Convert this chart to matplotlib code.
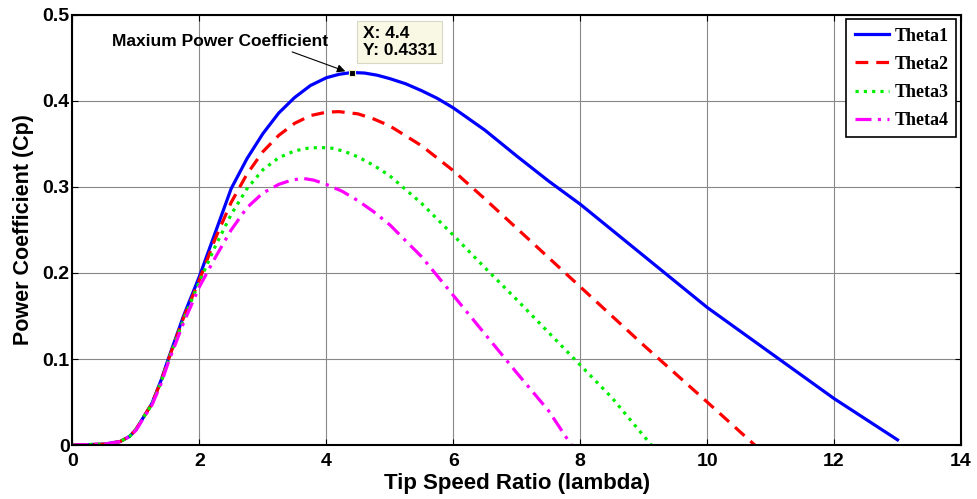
import numpy as np
import matplotlib
matplotlib.use('Agg')
import matplotlib.pyplot as plt

# Values
theta1_x = [0, 0.5, 0.75, 0.9, 1.0, 1.1, 1.25, 1.4, 1.5, 1.75, 2.0, 2.25, 2.5, 2.75, 3.0, 3.25,
            3.5, 3.75, 4.0, 4.2, 4.4, 4.6, 4.8, 5.0, 5.25, 5.5, 5.75, 6.0, 6.5, 7.0, 7.5, 8.0,
            8.5, 9.0, 9.5, 10.0, 11.0, 12.0, 13.0]
theta1_y = [0, 0.001, 0.004, 0.010, 0.018, 0.030, 0.048, 0.076, 0.098, 0.150, 0.196, 0.247,
            0.298, 0.333, 0.362, 0.386, 0.404, 0.418, 0.427, 0.431, 0.4331, 0.4325, 0.430,
            0.426, 0.420, 0.412, 0.403, 0.392, 0.366, 0.336, 0.307, 0.280, 0.250, 0.220, 0.190,
            0.160, 0.107, 0.054, 0.006]

theta2_x = [0, 0.5, 0.75, 0.9, 1.0, 1.1, 1.25, 1.4, 1.5, 1.75, 2.0, 2.25, 2.5, 2.75, 3.0, 3.25,
            3.5, 3.75, 4.0, 4.2, 4.5, 4.75, 5.0, 5.5, 6.0, 6.5, 7.0, 7.5, 8.0, 8.5, 9.0, 9.5,
            10.0, 10.75]
theta2_y = [0, 0.001, 0.004, 0.010, 0.018, 0.030, 0.048, 0.075, 0.097, 0.148, 0.192, 0.240,
            0.282, 0.315, 0.341, 0.360, 0.374, 0.383, 0.387, 0.3876, 0.385, 0.379, 0.371, 0.348,
            0.319, 0.286, 0.252, 0.218, 0.184, 0.150, 0.116, 0.083, 0.050, 0.0]

theta3_x = [0, 0.5, 0.75, 0.9, 1.0, 1.1, 1.25, 1.4, 1.5, 1.75, 2.0, 2.25, 2.5, 2.75, 3.0, 3.25,
            3.5, 3.7, 3.9, 4.1, 4.3, 4.5, 4.75, 5.0, 5.5, 6.0, 6.5, 7.0, 7.5, 8.0, 8.5, 9.12]
theta3_y = [0, 0.001, 0.004, 0.010, 0.018, 0.030, 0.047, 0.074, 0.096, 0.146, 0.190, 0.231,
            0.268, 0.298, 0.320, 0.334, 0.342, 0.345, 0.346, 0.345, 0.341, 0.335, 0.325, 0.313,
            0.281, 0.244, 0.206, 0.169, 0.131, 0.093, 0.055, 0.0]

theta4_x = [0, 0.5, 0.75, 0.9, 1.0, 1.1, 1.25, 1.4, 1.5, 1.75, 2.0, 2.25, 2.5, 2.75, 3.0, 3.25,
            3.45, 3.63, 3.8, 4.0, 4.25, 4.5, 4.75, 5.0, 5.5, 6.0, 6.5, 7.0, 7.5, 7.86]
theta4_y = [0, 0.001, 0.004, 0.010, 0.017, 0.029, 0.046, 0.072, 0.094, 0.142, 0.184, 0.218,
            0.250, 0.276, 0.293, 0.303, 0.308, 0.310, 0.308, 0.303, 0.295, 0.284, 0.271, 0.256,
            0.219, 0.174, 0.129, 0.084, 0.040, 0.0]

peak_x, peak_y = 4.4, 0.4331

fig = plt.figure(figsize=(9.78, 4.99), dpi=100)
ax = fig.add_axes([0.0741, 0.1082, 0.9085, 0.8618])

ax.plot(theta1_x, theta1_y, color='#0000ff', lw=2.3, label='Theta1')
ax.plot(theta2_x, theta2_y, color='#ff0000', lw=2.3, ls=(0, (4, 2.5)), label='Theta2')
ax.plot(theta3_x, theta3_y, color='#00ee00', lw=2.3, ls=(0, (1, 1.6)), label='Theta3')
ax.plot(theta4_x, theta4_y, color='#ff00ff', lw=2.3, ls=(0, (5, 2, 1, 2)), label='Theta4')

# data tip marker
ax.plot([peak_x], [peak_y], marker='s', color='black', ms=5, mec='#f0f0c0', mew=0.8, zorder=5)

ax.set_xlim(0, 14)
ax.set_ylim(0, 0.5)
ax.set_xticks(np.arange(0, 15, 2))
ax.set_yticks([0, 0.1, 0.2, 0.3, 0.4, 0.5])
ax.set_yticklabels(['0', '0.1', '0.2', '0.3', '0.4', '0.5'])
ax.grid(True, color='#888888', lw=0.8)
ax.tick_params(direction='in', top=True, right=True, length=4, labelsize=14, pad=2)
ax.tick_params(axis='x', pad=6)
for lab in ax.get_xticklabels() + ax.get_yticklabels():
    lab.set_fontweight('bold')
    lab.set_family('Liberation Sans')
for s in ax.spines.values():
    s.set_linewidth(1.5)

ax.set_xlabel('Tip Speed Ratio (lambda)', fontsize=16, fontweight='bold', family='Liberation Sans', labelpad=2)
ax.set_ylabel('Power Coefficient (Cp)', fontsize=15.5, fontweight='bold', family='Liberation Sans', labelpad=6)

ax.annotate('Maxium Power Coefficient', xy=(4.3, 0.4345), xytext=(2.32, 0.469),
            ha='center', va='center', fontsize=12.5, fontweight='bold', family='Liberation Sans',
            arrowprops=dict(arrowstyle='-|>', color='black', lw=0.8, mutation_scale=12,
                            shrinkA=0, shrinkB=0, relpos=(0.8, 0.0)))

ax.text(4.57, 0.4686, 'X: 4.4\nY: 0.4331', ha='left', va='center', fontsize=12.5,
        fontweight='bold', family='Liberation Sans', linespacing=1.2,
        bbox=dict(boxstyle='square,pad=0.3', fc='#f8f8e4', ec='#d8d8c8', lw=0.8), zorder=6)

leg = ax.legend(loc='upper right', prop={'family': 'Liberation Serif', 'weight': 'bold', 'size': 13},
                fancybox=False, edgecolor='black', framealpha=1, handlelength=1.9,
                borderpad=0.45, labelspacing=0.62, handletextpad=0.3, borderaxespad=0.25)
leg.get_frame().set_linewidth(1.2)

fig.savefig('out.png', dpi=100)
